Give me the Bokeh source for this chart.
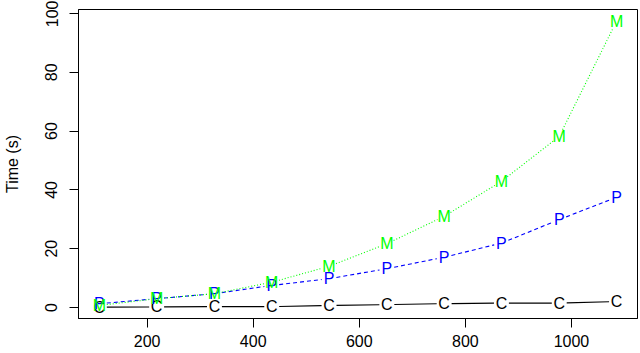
from bokeh.plotting import figure
from bokeh.models import FixedTicker, Range1d
from bokeh.core.properties import value
from bokeh.embed import file_html
from bokeh.resources import INLINE
import math

# ---- data ----
sizes = [110, 218, 327, 435, 543, 652, 760, 868, 977, 1085]
time_c = [0.1, 0.2, 0.3, 0.3, 0.7, 1.0, 1.3, 1.5, 1.5, 2.0]
time_p = [1.3, 3.0, 4.7, 7.5, 9.8, 13.2, 17.1, 21.9, 29.9, 37.5]
time_m = [0.7, 3.0, 4.7, 8.6, 14.0, 21.7, 31.0, 42.9, 58.2, 97.4]
x_ticks = [200, 400, 600, 800, 1000]
y_ticks = [0, 20, 40, 60, 80, 100]

FONT = "Liberation Sans"
W, H = 638, 352
ML, MR, MT, MB = 75, 1, 9, 34
x0, x1 = 70.7, 1124.5
y0, y1 = -3.74, 101.36

p = figure(width=W, height=H, output_backend="svg", toolbar_location=None,
           x_range=Range1d(x0, x1), y_range=Range1d(y0, y1),
           min_border_left=ML, min_border_right=MR, min_border_top=MT,
           min_border_bottom=MB)
p.xgrid.visible = False
p.ygrid.visible = False
p.outline_line_color = "black"
p.outline_line_width = 1
p.background_fill_color = "white"
p.border_fill_color = "white"

for ax in (p.xaxis[0], p.yaxis[0]):
    ax.axis_line_color = "black"
    ax.major_tick_line_color = "black"
    ax.minor_tick_line_color = None
    ax.major_tick_in = 0
    ax.major_label_text_font = FONT
    ax.major_label_text_font_size = "16px"
    ax.major_label_text_color = "black"

p.xaxis.ticker = FixedTicker(ticks=x_ticks)
p.yaxis.ticker = FixedTicker(ticks=y_ticks)
p.xaxis.major_tick_out = 9
p.xaxis.major_label_standoff = 7
p.yaxis.major_tick_out = 9
p.yaxis.major_label_standoff = 12
p.yaxis.major_label_orientation = "vertical"
p.yaxis.axis_label = "Time (s)"
p.yaxis.axis_label_text_font = FONT
p.yaxis.axis_label_text_font_size = "16px"
p.yaxis.axis_label_text_font_style = "normal"
p.yaxis.axis_label_text_color = "black"
p.yaxis.axis_label_standoff = 22

# pixel scales for gaps in type="b" style lines
fw = W - ML - MR
fh = H - MT - MB
sx = fw / (x1 - x0)
sy = fh / (y1 - y0)
GAP = 7.5

def gapped(xs, ys):
    xa, ya, xb, yb = [], [], [], []
    for i in range(len(xs) - 1):
        dx = (xs[i + 1] - xs[i]) * sx
        dy = (ys[i + 1] - ys[i]) * sy
        d = math.hypot(dx, dy)
        if d <= 2 * GAP:
            continue
        f = GAP / d
        xa.append(xs[i] + (xs[i + 1] - xs[i]) * f)
        ya.append(ys[i] + (ys[i + 1] - ys[i]) * f)
        xb.append(xs[i + 1] - (xs[i + 1] - xs[i]) * f)
        yb.append(ys[i + 1] - (ys[i + 1] - ys[i]) * f)
    return xa, ya, xb, yb

series = [
    (time_c, "C", "black", "solid"),
    (time_p, "P", "#0000FF", "4 3"),
    (time_m, "M", "#00FF00", "1 2"),
]
for ys, letter, color, dash in series:
    xa, ya, xb, yb = gapped(sizes, ys)
    p.segment(xa, ya, xb, yb, line_color=color, line_width=1.1, line_dash=dash)
    p.text(sizes, ys, text=[letter] * len(sizes), text_color=color,
           text_font=value(FONT), text_font_size="16px",
           text_align="center", text_baseline="middle")

open("out.html", "w").write(file_html(p, INLINE))
